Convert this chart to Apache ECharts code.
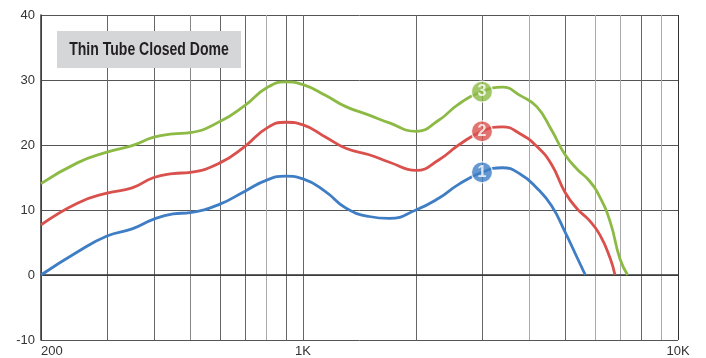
<!DOCTYPE html>
<html>
<head>
<meta charset="utf-8">
<script src="https://cdn.jsdelivr.net/npm/echarts@6/dist/echarts.min.js"></script>
<style>
html,body{margin:0;padding:0;background:#fff;}
#chart{width:706px;height:358px;}
</style>
</head>
<body>
<div id="chart"></div>
<script>
// Frequencies (Hz) and levels (dB)
var freq1 = [200, 250, 300, 350, 400, 450, 500, 600, 700, 800, 900, 1000, 1150, 1300, 1500, 1700, 2000, 2300, 2600, 3000, 3400, 3800, 4200, 4600, 5000, 5400, 5660];
var db1   = [0, 3.55, 6.0, 7.1, 8.6, 9.4, 9.6, 10.9, 12.9, 14.6, 15.2, 14.8, 12.8, 10.3, 9.0, 8.7, 10.0, 11.8, 13.95, 15.8, 16.5, 15.5, 13.4, 10.65, 6.6, 2.5, 0];

var freq2 = [200, 250, 300, 350, 400, 450, 500, 600, 700, 800, 900, 1000, 1150, 1300, 1500, 1700, 2000, 2300, 2600, 3000, 3400, 3800, 4200, 4600, 5000, 5400, 5800, 6200, 6600, 6790];
var db2   = [7.7, 11.05, 12.6, 13.4, 15.0, 15.6, 15.8, 17.25, 19.8, 22.6, 23.5, 23.1, 21.2, 19.5, 18.5, 17.35, 16.1, 17.7, 20.0, 22.1, 22.8, 21.7, 19.8, 17.0, 12.7, 10.1, 8.4, 6.1, 2.5, 0];

var freq3 = [200, 250, 300, 350, 400, 450, 500, 600, 700, 800, 900, 1000, 1150, 1300, 1500, 1700, 2000, 2300, 2600, 3000, 3400, 3800, 4200, 4600, 5000, 5400, 5800, 6200, 6600, 7000, 7340];
var db3   = [14.05, 17.25, 18.9, 19.9, 21.2, 21.7, 21.9, 23.6, 26.1, 28.8, 29.7, 29.3, 27.6, 25.9, 24.6, 23.4, 22.1, 23.8, 26.3, 28.2, 28.9, 27.6, 25.9, 22.3, 18.5, 16.2, 14.5, 11.9, 8.1, 2.5, 0];

var markerFreq = [3000, 3000, 3000];
var markerDb = [15.8, 22.1, 28.2];
var markerText = ['1', '2', '3'];

var gridFreqs = [200, 300, 400, 500, 600, 700, 800, 900, 1000, 2000, 3000, 4000, 5000, 6000, 7000, 8000, 9000, 10000];
var xTickLabels = {200: '200', 1000: '1K', 10000: '10K'};
var titleText = 'Thin Tube Closed Dome';

var colors = ['#3f7ec4', '#d9504c', '#8cba45'];

function pairs(f, d) { return f.map(function (v, i) { return [v, d[i]]; }); }

var D = '#666', L = '#aaa', M = '#888';
var gridColors = [D, D, D, M, D, D, L, D, D, D, D, L, D, L, L, D, L, '#333'];

var chart = echarts.init(document.getElementById('chart'));
var series = [];
[[freq1, db1], [freq2, db2], [freq3, db3]].forEach(function (s, i) {
  series.push({
    type: 'line',
    data: pairs(s[0], s[1]),
    smooth: 0.5,
    symbol: 'none',
    lineStyle: {color: colors[i], width: 2.8},
    z: 3
  });
});
series.push({
  type: 'scatter',
  data: markerFreq.map(function (f, i) {
    return {
      value: [f, markerDb[i]],
      itemStyle: {color: colors[i], borderColor: '#fff', borderWidth: 1.2},
      label: {formatter: markerText[i]}
    };
  }),
  symbolSize: 21,
  label: {show: true, position: 'inside', color: '#fff', fontWeight: 'bold', fontSize: 16, fontFamily: 'Liberation Sans'},
  z: 5
});

chart.setOption({
  animation: false,
  grid: {left: 41, right: 28, top: 15, bottom: 15},
  xAxis: {
    type: 'log',
    logBase: 10,
    min: 200,
    max: 10000,
    axisLine: {show: true, lineStyle: {color: '#333', width: 1.5}},
    axisTick: {show: false, customValues: gridFreqs},
    axisLabel: {
      customValues: [200, 1000, 10000],
      formatter: function (v) { return xTickLabels[Math.round(v)] || ''; },
      color: '#333', fontSize: 13, fontFamily: 'Liberation Sans', margin: 5,
      alignMinLabel: 'left'
    },
    splitLine: {show: true, lineStyle: {color: gridColors, width: 1}}
  },
  yAxis: {
    type: 'value',
    min: -10,
    max: 40,
    interval: 10,
    axisLine: {show: true, lineStyle: {color: '#333', width: 1.5}},
    axisTick: {show: false},
    axisLabel: {color: '#333', fontSize: 13, fontFamily: 'Liberation Sans', margin: 6},
    splitLine: {show: true, lineStyle: {color: '#555', width: 1}}
  },
  graphic: [
    {type: 'rect', shape: {x: 57, y: 31, width: 184, height: 37}, style: {fill: '#d5d6d8'}, z: 10},
    {type: 'text', x: 149, y: 50, scaleX: 0.78, style: {text: titleText, font: 'bold 18px "Liberation Sans", Arial, sans-serif', fill: '#231f20', textAlign: 'center', textVerticalAlign: 'middle'}, z: 11}
  ],
  series: series
});
</script>
</body>
</html>
